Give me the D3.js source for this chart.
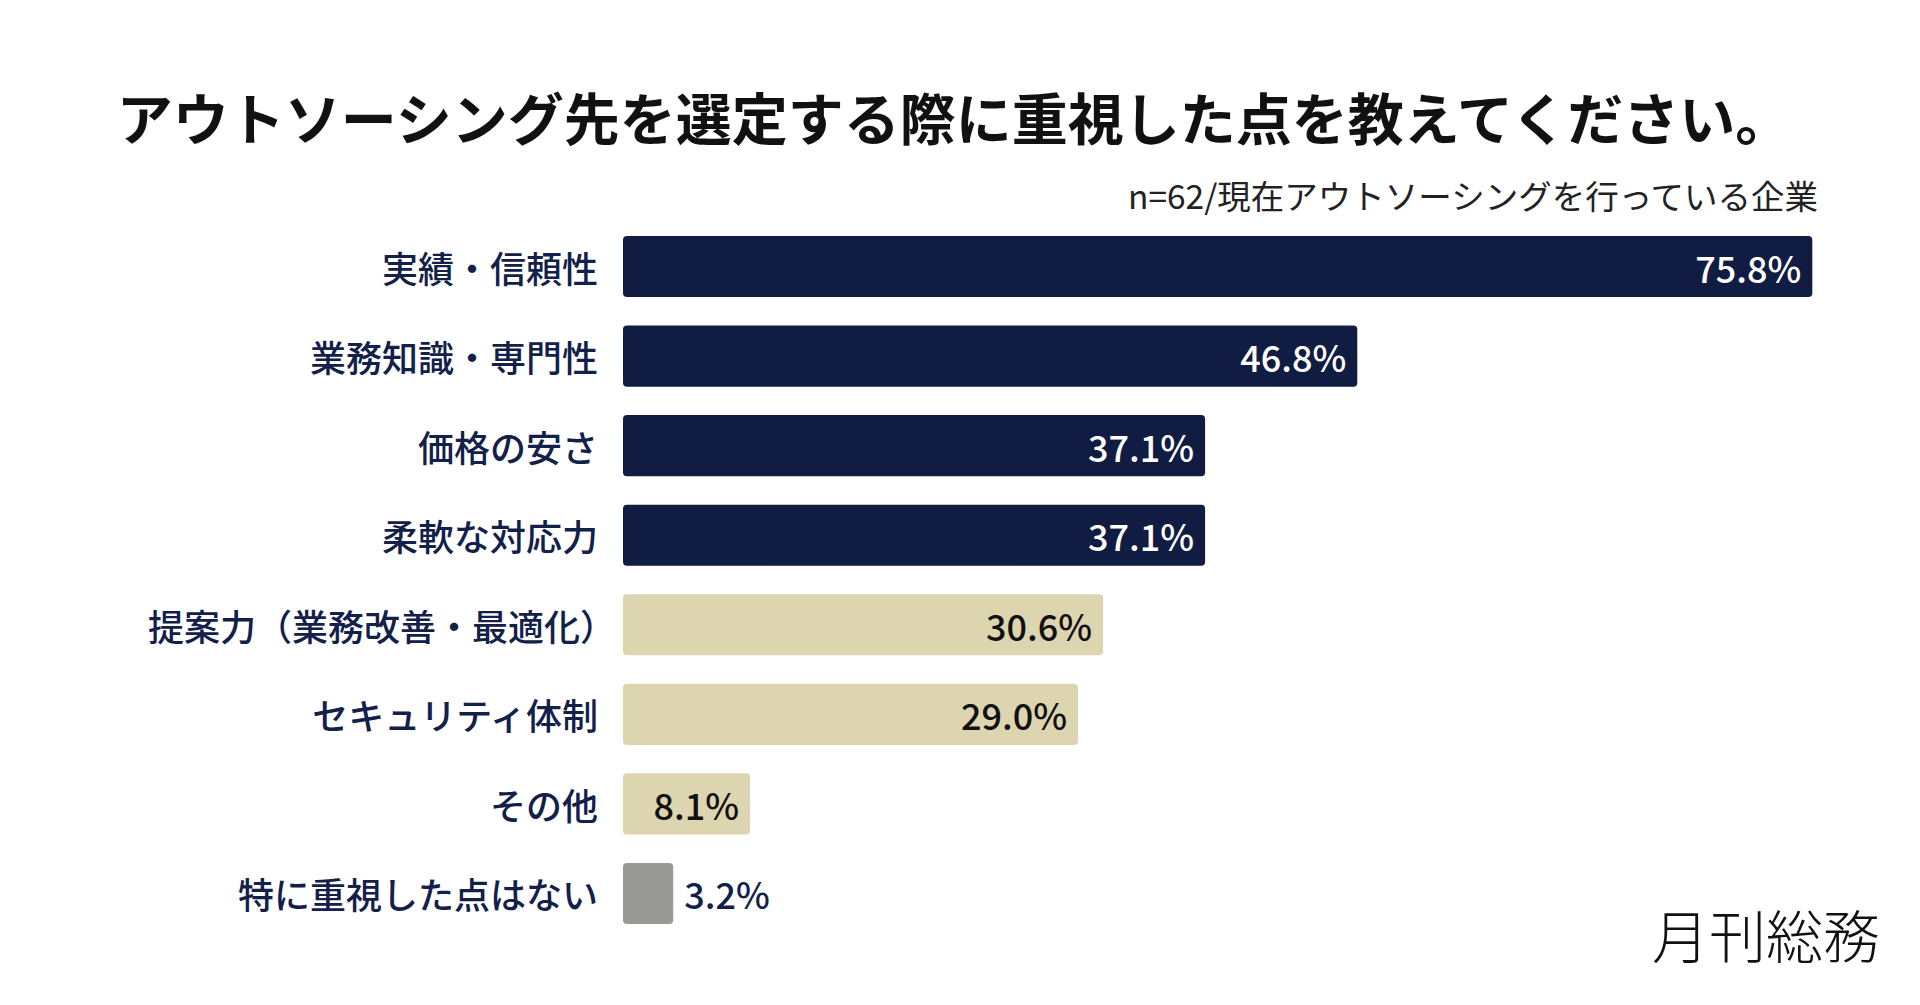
<!DOCTYPE html>
<html><head><meta charset="utf-8">
<script src="https://cdn.jsdelivr.net/npm/d3@7"></script>
<style>
html,body{margin:0;padding:0;background:#fff;}
svg{display:block;font-family:"Noto Sans CJK JP","Noto Sans",sans-serif;}
.halt{font-feature-settings:"halt" 1;}
</style></head>
<body>
<svg id="chart" width="1920" height="1005"></svg>
<script>
const title = "アウトソーシング先を選定する際に重視した点を教えてください。";
const subtitle = "n=62/現在アウトソーシングを行っている企業";
const logo = "月刊総務";
const categories = ["実績・信頼性","業務知識・専門性","価格の安さ","柔軟な対応力","提案力（業務改善・最適化）","セキュリティ体制","その他","特に重視した点はない"];
const values = [75.8,46.8,37.1,37.1,30.6,29.0,8.1,3.2];
const groups = ["top","top","top","top","mid","mid","mid","none"];

const colors = {top:"#111c42", mid:"#ddd5b0", none:"#999a98"};
const textColors = {top:"#ffffff", mid:"#111111", none:"#13204a"};

const svg = d3.select("#chart");
const x = d3.scaleLinear().domain([0,100]).range([623, 623+1569]);
const y = d3.scaleBand().domain(categories).range([236, 924]).paddingInner(0.318).paddingOuter(0);

svg.append("text").attr("x",954).attr("y",115).attr("text-anchor","middle")
  .attr("dominant-baseline","central").attr("font-size",56).attr("font-weight",700)
  .attr("fill","#111").text(title);

svg.append("text").attr("x",1818).attr("y",194).attr("text-anchor","end")
  .attr("dominant-baseline","central").attr("font-size",33.5).attr("font-weight",400)
  .attr("fill","#222").text(subtitle);

const g = svg.append("g");
const rows = g.selectAll("g.row").data(categories).join("g").attr("class","row");

rows.append("rect")
  .attr("x", x(0))
  .attr("y", d => y(d))
  .attr("width", (d,i) => x(values[i]) - x(0))
  .attr("height", y.bandwidth())
  .attr("rx", 4)
  .attr("fill", (d,i) => colors[groups[i]]);

rows.append("text")
  .attr("x", x(0) - 25)
  .attr("y", d => y(d) + y.bandwidth()/2)
  .attr("text-anchor","end").attr("dominant-baseline","central")
  .attr("font-size",36).attr("font-weight",500).attr("fill","#13204a")
  .each(function(d){
    const t = d3.select(this);
    if (d.endsWith("）")) {
      t.append("tspan").text(d.slice(0,-1));
      t.append("tspan").attr("class","halt").text("）");
    } else {
      t.text(d);
    }
  });

rows.append("text")
  .attr("x", (d,i) => groups[i]==="none" ? x(values[i]) + 11 : x(values[i]) - 11)
  .attr("y", d => y(d) + y.bandwidth()/2)
  .attr("text-anchor", (d,i) => groups[i]==="none" ? "start" : "end")
  .attr("dominant-baseline","central")
  .attr("font-size",36).attr("font-weight",500)
  .attr("fill", (d,i) => textColors[groups[i]])
  .text((d,i) => values[i].toFixed(1) + "%");

svg.append("text").attr("x",1880).attr("y",933).attr("text-anchor","end")
  .attr("dominant-baseline","central").attr("font-size",57).attr("font-weight",200)
  .attr("fill","#111").text(logo);
</script>
</body></html>
